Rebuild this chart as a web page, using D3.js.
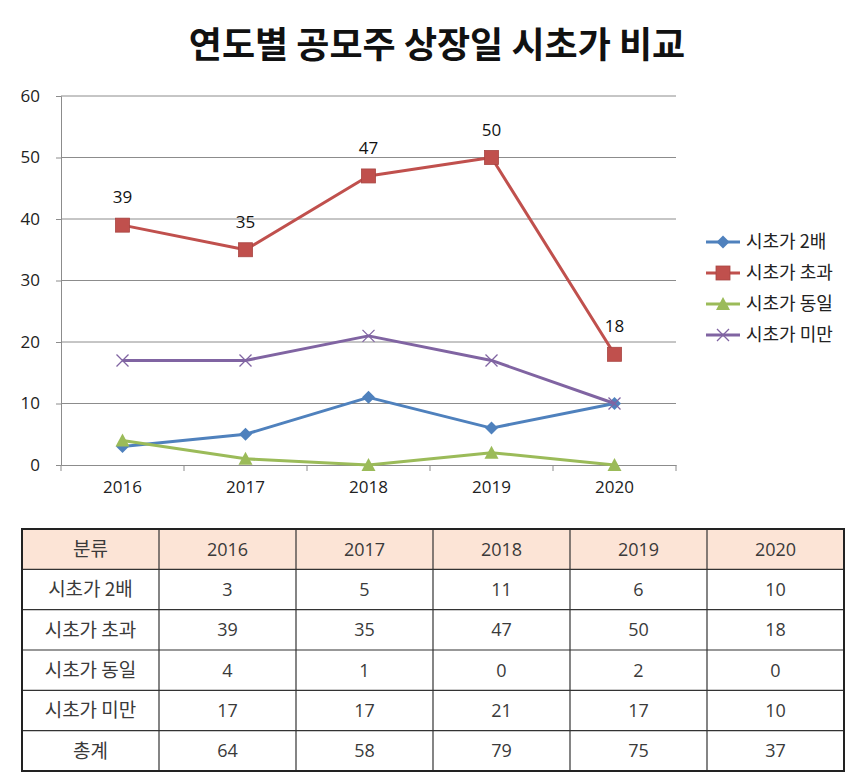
<!DOCTYPE html>
<html><head><meta charset="utf-8">
<script src="https://cdn.jsdelivr.net/npm/d3@7"></script>
<style>
html,body{margin:0;padding:0;background:#fff;}
svg{display:block;font-family:"Noto Sans CJK KR","Noto Sans",sans-serif;}
</style></head>
<body>
<svg id="c" width="860" height="780"></svg>
<script>
const title = "연도별 공모주 상장일 시초가 비교";
const years = ["2016","2017","2018","2019","2020"];
const seriesNames = ["시초가 2배","시초가 초과","시초가 동일","시초가 미만"];
const double2x = [3,5,11,6,10];
const above = [39,35,47,50,18];
const equal = [4,1,0,2,0];
const below = [17,17,21,17,10];
const totals = [64,58,79,75,37];
const yTicks = [0,10,20,30,40,50,60];
const tableHeader = ["분류"].concat(years);
const totalLabel = "총계";

(function(){
const colors = ["#4F81BD","#C0504D","#9BBB59","#8064A2"];
const markers = ["diamond","square","triangle","x"];
const series = [double2x, above, equal, below];
const numFont = "\"Open Sans\",\"Noto Sans\",sans-serif";

const svg = d3.select("#c");

svg.append("text").attr("x",437).attr("y",58).attr("text-anchor","middle")
  .attr("font-size",36).attr("font-weight","bold").attr("fill","#111").text(title);

const pL=61, pR=676, pT=96, pB=465;
const x = d3.scaleBand().domain(years).range([pL,pR]);
const y = d3.scaleLinear().domain([0,60]).range([pB,pT]);
const cx = d => x(d)+x.bandwidth()/2;

svg.append("g").selectAll("line").data(yTicks.filter(t=>t>0)).join("line")
  .attr("x1",pL).attr("x2",pR).attr("y1",d=>y(d)).attr("y2",d=>y(d))
  .attr("stroke","#8c8c8c").attr("stroke-width",1);

const yAxis = svg.append("g").attr("transform",`translate(${pL},0)`)
  .call(d3.axisLeft(y).tickValues(yTicks).tickSize(5).tickPadding(16));
yAxis.select(".domain").attr("stroke","#8c8c8c");
yAxis.selectAll(".tick line").attr("stroke","#8c8c8c");
yAxis.selectAll("text").attr("font-size",17).attr("fill","#222").attr("font-family",numFont);

const xAxis = svg.append("g").attr("transform",`translate(0,${pB})`)
  .call(d3.axisBottom(x).tickSize(0).tickPadding(16));
xAxis.select(".domain").attr("stroke","#8c8c8c");
xAxis.selectAll("text").attr("font-size",17).attr("fill","#222").attr("font-family",numFont);
const bounds = years.map(d=>x(d)).concat([pR]);
svg.append("g").selectAll("line").data(bounds).join("line")
  .attr("x1",d=>d).attr("x2",d=>d).attr("y1",pB).attr("y2",pB+6)
  .attr("stroke","#8c8c8c");

function drawMarker(g, type, color, px, py){
  if(type==="diamond"){
    g.append("path").attr("d",`M${px},${py-6.5}L${px+6.5},${py}L${px},${py+6.5}L${px-6.5},${py}Z`).attr("fill",color);
  } else if(type==="square"){
    g.append("rect").attr("x",px-7).attr("y",py-7).attr("width",14).attr("height",14)
      .attr("fill",color).attr("stroke","#a84542").attr("stroke-width",0.8);
  } else if(type==="triangle"){
    g.append("path").attr("d",`M${px},${py-7}L${px+7},${py+6}L${px-7},${py+6}Z`).attr("fill",color);
  } else {
    g.append("path").attr("d",`M${px-6},${py-6}L${px+6},${py+6}M${px+6},${py-6}L${px-6},${py+6}`)
      .attr("stroke",color).attr("stroke-width",1.3).attr("fill","none");
  }
}

const line = d3.line().x((d,i)=>cx(years[i])).y(d=>y(d));
series.forEach((vals,si)=>{
  const g = svg.append("g");
  g.append("path").datum(vals).attr("d",line).attr("fill","none")
    .attr("stroke",colors[si]).attr("stroke-width",3).attr("stroke-linejoin","round");
  vals.forEach((v,i)=>drawMarker(g, markers[si], colors[si], cx(years[i]), y(v)));
});

svg.append("g").selectAll("text").data(above).join("text")
  .attr("x",(d,i)=>cx(years[i])).attr("y",d=>y(d)-22)
  .attr("text-anchor","middle").attr("font-size",17).attr("fill","#111")
  .attr("font-family",numFont).text(d=>d);

const lg = svg.append("g");
seriesNames.forEach((n,i)=>{
  const ly = 242 + i*31;
  lg.append("line").attr("x1",706).attr("x2",740).attr("y1",ly).attr("y2",ly)
    .attr("stroke",colors[i]).attr("stroke-width",3);
  drawMarker(lg, markers[i], colors[i], 723, ly);
  lg.append("text").attr("x",746).attr("y",ly).attr("dy","0.36em")
    .attr("font-size",18).attr("fill","#222").text(n);
});

const rowLabels = seriesNames.concat([totalLabel]);
const rowsData = [tableHeader].concat(
  rowLabels.map((r,i)=>[r].concat((i<4?series[i]:totals).map(String))));
const tx = d3.scaleBand().domain(d3.range(tableHeader.length)).range([22,844]);
const ty = d3.scaleBand().domain(d3.range(rowsData.length)).range([529,771]);
const tg = svg.append("g");
tg.append("rect").attr("x",22).attr("y",ty(0)).attr("width",822).attr("height",ty.bandwidth())
  .attr("fill","#fce4d6");
rowsData.forEach((row,ri)=>{
  row.forEach((cell,ci)=>{
    const isNum = /^\d+$/.test(cell);
    tg.append("text").attr("x",tx(ci)+tx.bandwidth()/2).attr("y",ty(ri)+ty.bandwidth()/2)
      .attr("dy","0.36em").attr("text-anchor","middle").attr("font-size",isNum?18:19)
      .attr("font-family",isNum?numFont:null)
      .attr("xml:space","preserve")
      .attr("fill","#3a3a3a").text(cell);
  });
});
tg.selectAll(".h").data(d3.range(1,rowsData.length)).join("line")
  .attr("x1",22).attr("x2",844).attr("y1",d=>ty(d)).attr("y2",d=>ty(d))
  .attr("stroke","#333").attr("stroke-width",1.2);
tg.selectAll(".v").data(d3.range(1,tableHeader.length)).join("line")
  .attr("y1",529).attr("y2",771).attr("x1",d=>tx(d)).attr("x2",d=>tx(d))
  .attr("stroke","#333").attr("stroke-width",1.2);
tg.append("rect").attr("x",22).attr("y",529).attr("width",822).attr("height",242)
  .attr("fill","none").attr("stroke","#222").attr("stroke-width",2);
})();
</script>
</body></html>
